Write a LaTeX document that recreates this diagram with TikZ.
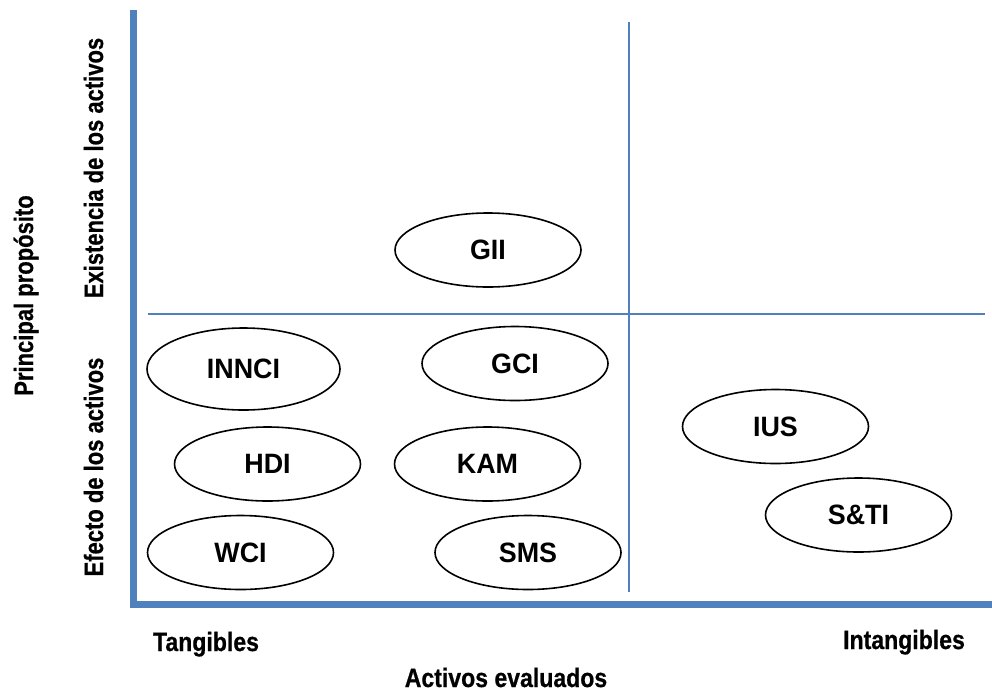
\documentclass[tikz,border=0pt]{standalone}
\usepackage{fontspec}
\usetikzlibrary{shapes.geometric}
\setmainfont{Liberation Sans}
\newfontfamily\ovalfont[FakeStretch=0.96]{Liberation Sans Bold}
\newfontfamily\axisfont[FakeStretch=0.87,FakeBold=0.6]{Liberation Sans Bold}
\newfontfamily\sidefont[FakeStretch=0.83,FakeBold=0.6]{Liberation Sans Bold}
\definecolor{axisblue}{HTML}{4F81BD}
\begin{document}
\begin{tikzpicture}[x=1pt,y=-1pt,
  oval/.style={draw=black, line width=1.6pt, ellipse, minimum width=186pt, minimum height=74pt, inner sep=0pt, font=\ovalfont\fontsize{28}{30}\selectfont},
  axisline/.style={draw=axisblue, line width=7pt, line join=miter},
  gridline/.style={draw=axisblue, line width=2pt},
  axlabel/.style={font=\axisfont\fontsize{26.5}{30}\selectfont, anchor=base, inner sep=0pt},
  sidelabel/.style={font=\sidefont\fontsize{26.5}{30}\selectfont, anchor=base, rotate=90, inner sep=0pt}]
\useasboundingbox (0,0) rectangle (992,691);
% axes
\coordinate (atop) at (133,10);
\coordinate (aorig) at (133,604);
\coordinate (aright) at (992,604);
\draw[axisline] (atop) -- (aorig) -- (aright);
% quadrant lines
\coordinate (vtop) at (629,22);
\coordinate (vbot) at (629,592);
\coordinate (hleft) at (148,314);
\coordinate (hright) at (985,314);
\draw[gridline] (vtop) -- (vbot);
\draw[gridline] (hleft) -- (hright);
% ovals
\node[oval] (gii) at (488,250) {GII};
\node[oval, minimum width=193pt, minimum height=82pt] (innci) at (243.5,369) {INNCI};
\node[oval] (gci) at (515,363.5) {GCI};
\node[oval] (hdi) at (267.5,464) {HDI};
\node[oval] (kam) at (487.5,464) {KAM};
\node[oval] (wci) at (240.5,552.5) {WCI};
\node[oval] (sms) at (528,552.5) {SMS};
\node[oval] (ius) at (775.5,426.5) {IUS};
\node[oval] (sti) at (858.5,515) {S\&TI};
% axis labels
\node[axlabel] (tang) at (206,651) {Tangibles};
\node[axlabel] (intang) at (904,649) {Intangibles};
\node[axlabel] (eval) at (506,687) {Activos evaluados};
\node[sidelabel] (prop) at (33,295.5) {Principal propósito};
\node[sidelabel] (exist) at (103,168) {Existencia de los activos};
\node[sidelabel] (efec) at (103,467) {Efecto de los activos};
\end{tikzpicture}
\end{document}
